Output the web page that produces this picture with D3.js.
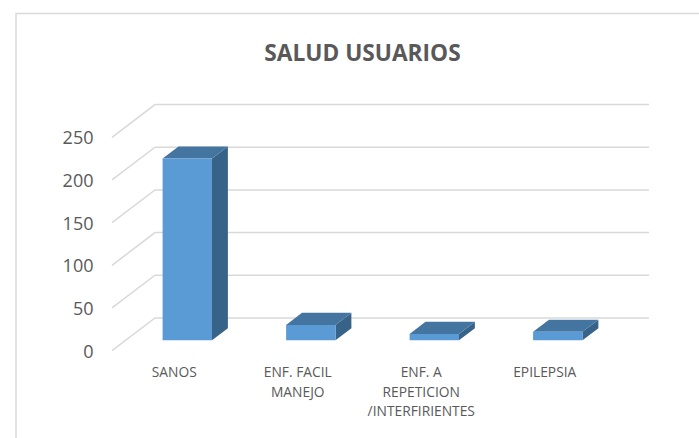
<!DOCTYPE html>
<html>
<head>
<meta charset="utf-8">
<script src="https://cdn.jsdelivr.net/npm/d3@7"></script>
<style>
  html, body { margin: 0; padding: 0; background: #fff; }
  svg { display: block; font-family: "Open Sans", sans-serif; }
</style>
</head>
<body>
<div id="chart"></div>
<script>
const width = 699;
const height = 438;

const title = "SALUD USUARIOS";
const categories = ["SANOS", "ENF. FACIL MANEJO", "ENF. A REPETICION /INTERFIRIENTES", "EPILEPSIA"];
const categoryLines = [["SANOS"], ["ENF. FACIL", "MANEJO"], ["ENF. A", "REPETICION", "/INTERFIRIENTES"], ["EPILEPSIA"]];
const values = [213, 18, 7.5, 10];
const yTicks = [0, 50, 100, 150, 200, 250];

let svg = d3.select("#chart")
  .append("svg")
  .attr("width", width)
  .attr("height", height)
  .attr("viewBox", [0, 0, width, height]);

// chart frame, only the top and left edges show in the picture
svg.append("path")
  .attr("d", "M16,438V13.5H699")
  .attr("fill", "none")
  .attr("stroke", "#d9d9d9")
  .attr("stroke-width", 1.5);

// scales of the front plane
const x = d3.scaleBand().domain(categories).range([112, 606]).paddingInner(0.6).paddingOuter(0.3);
const y = d3.scaleLinear().domain([0, 250]).range([350.6, 137.3]);

// depth goes from the front plane (0) to the back wall (1)
const depthX = d3.scaleLinear().domain([0, 1]).range([0, 43]);
const depthY = d3.scaleLinear().domain([0, 1]).range([0, -32.7]);
const barFront = 0.315;
const barBack = 0.685;

const project = (px, v, z) => [px + depthX(z), y(v) + depthY(z)];
const poly = (pts) => "M" + pts.map((p) => p.join(",")).join("L") + "Z";

// gridlines: floor/side diagonal then along the back wall
svg.append("g")
  .selectAll("path")
  .data(yTicks)
  .enter()
  .append("path")
  .attr("fill", "none")
  .attr("stroke", "#d9d9d9")
  .attr("stroke-width", 1.5)
  .attr("d", (d) => d3.line()([project(112, d, 0), project(112, d, 1), project(606, d, 1)]));

// bars
const bars = svg.append("g")
  .selectAll("g")
  .data(categories)
  .enter()
  .append("g");

// side face
bars.append("path")
  .attr("fill", "#386388")
  .attr("d", (d, i) => {
    const r = x(d) + x.bandwidth();
    return poly([project(r, 0, barFront), project(r, 0, barBack), project(r, values[i], barBack), project(r, values[i], barFront)]);
  });

// top face
bars.append("path")
  .attr("fill", "#4375a0")
  .attr("d", (d, i) => {
    const l = x(d), r = l + x.bandwidth();
    return poly([project(l, values[i], barFront), project(l, values[i], barBack), project(r, values[i], barBack), project(r, values[i], barFront)]);
  });

// front face
bars.append("path")
  .attr("fill", "#5b9bd5")
  .attr("d", (d, i) => {
    const l = x(d), r = l + x.bandwidth();
    return poly([project(l, 0, barFront), project(l, values[i], barFront), project(r, values[i], barFront), project(r, 0, barFront)]);
  });

// y tick labels
svg.append("g")
  .selectAll("text")
  .data(yTicks)
  .enter()
  .append("text")
  .attr("x", 93.5)
  .attr("y", (d) => y(d) + 7)
  .attr("text-anchor", "end")
  .attr("font-size", 18)
  .attr("fill", "#595959")
  .text((d) => d);

// category labels
svg.append("g")
  .selectAll("text")
  .data(categories)
  .enter()
  .append("text")
  .attr("x", (d) => x(d) + x.bandwidth() / 2 + 0.5)
  .attr("y", 377)
  .attr("text-anchor", "middle")
  .attr("font-size", 13.8)
  .attr("fill", "#595959")
  .selectAll("tspan")
  .data((d, i) => categoryLines[i])
  .enter()
  .append("tspan")
  .attr("x", function () { return this.parentNode.getAttribute("x"); })
  .attr("dy", (d, i) => (i ? 19.5 : 0))
  .text((d) => d);

// title
svg.append("text")
  .attr("x", 362.5)
  .attr("y", 61)
  .attr("text-anchor", "middle")
  .attr("font-size", 22.7)
  .attr("font-weight", 700)
  .attr("fill", "#595959")
  .text(title);
</script>
</body>
</html>
